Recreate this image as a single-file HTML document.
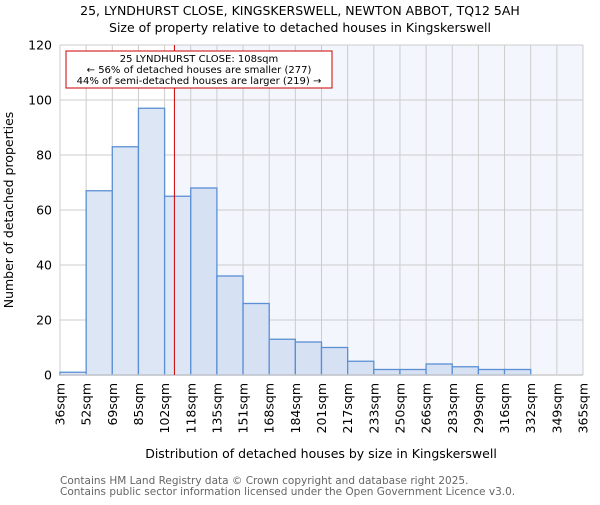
<!DOCTYPE html>
<html><head><meta charset="utf-8"><style>body{margin:0;background:#fff}svg text{font-family:"DejaVu Sans","Liberation Sans",sans-serif}</style></head>
<body>
<svg id="c" width="600" height="500" xmlns="http://www.w3.org/2000/svg">
<text x="300" y="15" text-anchor="middle" font-size="12.5">25, LYNDHURST CLOSE, KINGSKERSWELL, NEWTON ABBOT, TQ12 5AH</text>
<text x="300" y="32" text-anchor="middle" font-size="12.5">Size of property relative to detached houses in Kingskerswell</text>
<g id="plot"></g>
<text transform="translate(13,210) rotate(-90)" text-anchor="middle" font-size="12.5">Number of detached properties</text>
<text x="321" y="458" text-anchor="middle" font-size="12.5">Distribution of detached houses by size in Kingskerswell</text>
<text x="60" y="484" font-size="10.5" fill="#666">Contains HM Land Registry data © Crown copyright and database right 2025.</text>
<text x="60" y="495" font-size="10.5" fill="#666">Contains public sector information licensed under the Open Government Licence v3.0.</text>
</svg>
<script>
const binEdges=[36,52,69,85,102,118,135,151,168,184,201,217,233,250,266,283,299,316,332,349,365];
const tickLabels=["36sqm","52sqm","69sqm","85sqm","102sqm","118sqm","135sqm","151sqm","168sqm","184sqm","201sqm","217sqm","233sqm","250sqm","266sqm","283sqm","299sqm","316sqm","332sqm","349sqm","365sqm"];
const counts=[1,67,83,97,65,68,36,26,13,12,10,5,2,2,4,3,2,2,0,0];
const yTicks=[0,20,40,60,80,100,120];
const propertySize=108;
const X0=60,X1=583,Y0=375,Y1=45,YMAX=120;
const nb=counts.length,bw=(X1-X0)/nb;
const xi=i=>X0+i*bw;
const xv=v=>{for(let i=0;i<binEdges.length-1;i++){if(v<=binEdges[i+1])return xi(i)+(v-binEdges[i])/(binEdges[i+1]-binEdges[i])*bw;}return X1;};
const y=v=>Y0-(v/YMAX)*(Y0-Y1);
const g=document.getElementById('plot');const NS='http://www.w3.org/2000/svg';
function mk(t,a,p){const e=document.createElementNS(NS,t);for(const k in a)e.setAttribute(k,a[k]);(p||g).appendChild(e);return e;}
const mx=xv(propertySize);
const bg=mk('rect',{x:mx,y:Y1,width:X1-mx,height:Y0-Y1,fill:'#f3f6fd'});


yTicks.forEach(t=>{const l=mk('line',{x1:X0,x2:X1,y1:y(t),y2:y(t),stroke:'#ccc','stroke-width':1});


const tx=mk('text',{x:X0-8,y:y(t)+4.5,'text-anchor':'end','font-size':'12.5'});tx.textContent=t;

});
binEdges.forEach((e,i)=>{const l=mk('line',{x1:xi(i),x2:xi(i),y1:Y1,y2:Y0,stroke:'#ccc','stroke-width':1});


const tx=mk('text',{transform:`translate(${xi(i)+4.5},${Y0+8}) rotate(-90)`,'text-anchor':'end','font-size':'12.5'});tx.textContent=tickLabels[i];

});
counts.forEach((c,i)=>{if(c<=0)return;const left=xi(i)<mx;const r=mk('rect',{x:xi(i),y:y(c),width:bw,height:Y0-y(c),fill:left?'#dde6f4':'#d6e2f4',stroke:'#5b8fd4','stroke-width':1.3});

});
const ax=mk('line',{x1:X0,x2:X1,y1:Y0,y2:Y0,stroke:'#ccc','stroke-width':1.5});


const ml=mk('line',{x1:mx,x2:mx,y1:Y1,y2:Y0,stroke:'#cc0000','stroke-width':1});


const box=mk('rect',{x:66,y:51,width:266,height:37,fill:'#fff',stroke:'#cc0000','stroke-width':1});


["25 LYNDHURST CLOSE: 108sqm","← 56% of detached houses are smaller (277)","44% of semi-detached houses are larger (219) →"].forEach((s,i)=>{const t=mk('text',{x:199,y:62+i*11,'text-anchor':'middle','font-size':'10'});t.textContent=s;

});
</script>
</body></html>
